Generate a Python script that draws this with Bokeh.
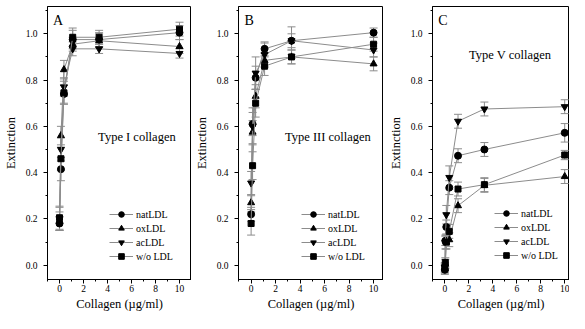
from bokeh.plotting import figure
from bokeh.layouts import row
from bokeh.models import ColumnDataSource, Whisker, TeeHead, FixedTicker, Label
from bokeh.embed import file_html
from bokeh.resources import INLINE

# ---------------- data ----------------
series_names = ["natLDL", "oxLDL", "acLDL", "w/o LDL"]
markers = ["circle", "triangle", "inverted_triangle", "square"]

x_A = [0, 0.12, 0.37, 1.1, 3.3, 10]
A_nat = [0.18, 0.415, 0.74, 0.975, 0.975, 1.005]
A_ox = [0.19, 0.56, 0.845, 0.955, 0.97, 0.945]
A_ac = [0.20, 0.50, 0.77, 0.935, 0.935, 0.915]
A_wo = [0.205, 0.46, 0.745, 0.985, 0.985, 1.02]
A_nat_err = [0.03, 0.05, 0.04, 0.04, 0.03, 0.03]
A_ox_err = [0.04, 0.04, 0.04, 0.03, 0.03, 0.03]
A_ac_err = [0.05, 0.05, 0.04, 0.03, 0.02, 0.02]
A_wo_err = [0.05, 0.05, 0.05, 0.04, 0.03, 0.03]

x_B = [0, 0.12, 0.37, 1.1, 3.3, 10]
B_nat = [0.22, 0.61, 0.81, 0.935, 0.97, 1.005]
B_ox = [0.27, 0.575, 0.73, 0.885, 0.90, 0.87]
B_ac = [0.355, 0.60, 0.83, 0.91, 0.97, 0.93]
B_wo = [0.18, 0.43, 0.70, 0.86, 0.90, 0.955]
B_nat_err = [0.03, 0.05, 0.05, 0.03, 0.06, 0.02]
B_ox_err = [0.03, 0.05, 0.05, 0.03, 0.03, 0.03]
B_ac_err = [0.05, 0.08, 0.07, 0.05, 0.03, 0.03]
B_wo_err = [0.05, 0.06, 0.06, 0.04, 0.03, 0.03]

x_C = [0, 0.04, 0.12, 0.37, 1.1, 3.3, 10]
C_nat = [-0.02, 0.105, 0.165, 0.335, 0.473, 0.50, 0.572]
C_ox = [-0.015, 0.005, 0.10, 0.11, 0.257, 0.345, 0.383]
C_ac = [-0.01, 0.10, 0.218, 0.379, 0.622, 0.675, 0.685]
C_wo = [-0.01, 0.012, 0.10, 0.146, 0.329, 0.348, 0.476]
C_nat_err = [0.02, 0.02, 0.03, 0.03, 0.03, 0.03, 0.04]
C_ox_err = [0.02, 0.02, 0.03, 0.03, 0.03, 0.03, 0.03]
C_ac_err = [0.02, 0.03, 0.04, 0.05, 0.03, 0.03, 0.03]
C_wo_err = [0.02, 0.02, 0.03, 0.03, 0.03, 0.03, 0.02]

y_ticks = [0.0, 0.2, 0.4, 0.6, 0.8, 1.0]
y_tick_labels = ["0.0", "0.2", "0.4", "0.6", "0.8", "1.0"]
y_minor = [0.1, 0.3, 0.5, 0.7, 0.9, 1.1]
x_ticks = [0, 2, 4, 6, 8, 10]
x_tick_labels = ["0", "2", "4", "6", "8", "10"]
x_minor = [-1, 1, 3, 5, 7, 9, 11]

panel_letters = ["A", "B", "C"]
panel_titles = ["Type I collagen", "Type III collagen", "Type V collagen"]
x_label = "Collagen (\u00b5g/ml)"
y_label = "Extinction"

FONT = "Liberation Serif"
GRAY = "#8c8c8c"
H = 313


def make_panel(xs, ys_list, errs_list, letter, title, title_pos, width,
               border_left, x_start, x_end, legend_loc):
    p = figure(width=width, height=H, output_backend="svg",
               toolbar_location=None, x_range=(x_start, x_end), y_range=(-0.062, 1.118),
               min_border_left=border_left, min_border_right=0,
               min_border_top=6, min_border_bottom=34)
    p.background_fill_color = "white"
    p.border_fill_color = "white"
    p.grid.visible = False
    p.outline_line_color = "black"
    p.outline_line_width = 1

    for name, mk, ys, errs in zip(series_names, markers, ys_list, errs_list):
        src = ColumnDataSource(dict(x=xs, y=ys,
                                    lo=[v - e for v, e in zip(ys, errs)],
                                    hi=[v + e for v, e in zip(ys, errs)]))
        p.line("x", "y", source=src, line_color=GRAY, line_width=1, legend_label=name)
        w = Whisker(base="x", lower="lo", upper="hi", source=src,
                    line_color=GRAY, line_width=1,
                    upper_head=TeeHead(size=8, line_color=GRAY, line_width=1),
                    lower_head=TeeHead(size=8, line_color=GRAY, line_width=1))
        p.add_layout(w)
        sz = 6 if mk == "square" else 7
        p.scatter("x", "y", source=src, marker=mk, size=sz, fill_color="black",
                  line_color="black", legend_label=name)

    for ax in (p.xaxis[0], p.yaxis[0]):
        ax.axis_line_color = "black"
        ax.major_tick_line_color = "black"
        ax.minor_tick_line_color = "black"
        ax.major_tick_in = 0
        ax.major_tick_out = 4
        ax.minor_tick_in = 0
        ax.minor_tick_out = 2
        ax.major_label_text_font = FONT
        ax.major_label_text_font_size = "9.5px"
        ax.major_label_text_color = "black"
        ax.axis_label_text_font = FONT
        ax.axis_label_text_font_size = "12.5px"
        ax.axis_label_text_font_style = "normal"
        ax.axis_label_text_color = "black"

    p.yaxis.ticker = FixedTicker(ticks=y_ticks, minor_ticks=y_minor)
    p.yaxis.major_label_overrides = {t: l for t, l in zip(y_ticks, y_tick_labels)}
    p.yaxis.major_label_standoff = 6
    p.yaxis.axis_label = y_label
    p.yaxis.axis_label_standoff = 5
    p.xaxis.ticker = FixedTicker(ticks=x_ticks, minor_ticks=x_minor)
    p.xaxis.major_label_overrides = {t: l for t, l in zip(x_ticks, x_tick_labels)}
    p.xaxis.major_label_standoff = 1
    p.xaxis.axis_label = x_label
    p.xaxis.axis_label_standoff = 2

    p.add_layout(Label(x=-0.55, y=1.09, text=letter, text_font=FONT,
                       text_font_size="14px", text_baseline="top", text_align="left",
                       text_color="black"))
    p.add_layout(Label(x=title_pos[0], y=title_pos[1], text=title, text_font=FONT,
                       text_font_size="12.5px", text_baseline="middle",
                       text_align="center", text_color="black"))

    lg = p.legend[0]
    lg.location = legend_loc
    lg.orientation = "vertical"
    lg.glyph_width = 24
    lg.glyph_height = 14
    lg.label_height = 14
    lg.spacing = 0
    lg.padding = 0
    lg.margin = 0
    lg.label_standoff = 3
    lg.border_line_color = None
    lg.background_fill_alpha = 0
    lg.label_text_font = FONT
    lg.label_text_font_size = "10px"
    lg.label_text_color = "black"
    return p


pA = make_panel(x_A, [A_nat, A_ox, A_ac, A_wo], [A_nat_err, A_ox_err, A_ac_err, A_wo_err],
                panel_letters[0], panel_titles[0], (6.45, 0.556), 191, 43, -1, 11, (62, 16))
pB = make_panel(x_B, [B_nat, B_ox, B_ac, B_wo], [B_nat_err, B_ox_err, B_ac_err, B_wo_err],
                panel_letters[1], panel_titles[1], (6.27, 0.556), 192, 46, -1.03, 10.81, (63, 16))
pC = make_panel(x_C, [C_nat, C_ox, C_ac, C_wo], [C_nat_err, C_ox_err, C_ac_err, C_wo_err],
                panel_letters[2], panel_titles[2], (5.46, 0.907), 186, 49, -1.03, 10.4, (62, 17))

layout = row(pA, pB, pC, spacing=0)
open("out.html", "w").write(file_html(layout, INLINE))
